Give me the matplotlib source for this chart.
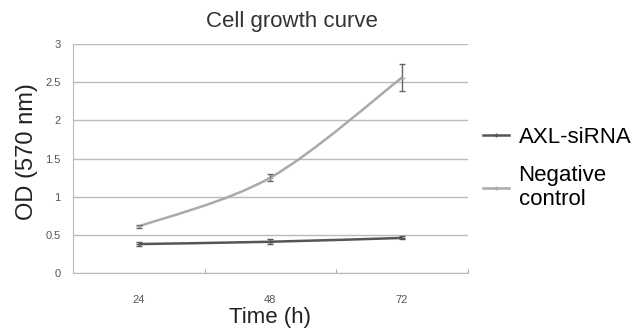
import matplotlib
matplotlib.use('Agg')
import matplotlib.pyplot as plt
from matplotlib.path import Path
from matplotlib.patches import PathPatch

plt.rcParams['font.family'] = ['Liberation Sans', 'DejaVu Sans']

# Datos
tiempos = ['24', '48', '72']
axl_sirna = [0.38, 0.41, 0.46]
axl_err = [0.03, 0.03, 0.02]
control_neg = [0.61, 1.25, 2.56]
control_err = [0.02, 0.05, 0.18]
yticks = [0, 0.5, 1, 1.5, 2, 2.5, 3]


def curva_suave(ax, xs, ys, color):
    # linea suavizada estilo Excel (Catmull-Rom -> Bezier)
    pts = list(zip(xs, ys))
    ext = [pts[0]] + pts + [pts[-1]]
    verts = [pts[0]]
    codes = [Path.MOVETO]
    for i in range(1, len(ext) - 2):
        p0, p1, p2, p3 = ext[i - 1], ext[i], ext[i + 1], ext[i + 2]
        c1 = (p1[0] + (p2[0] - p0[0]) / 6, p1[1] + (p2[1] - p0[1]) / 6)
        c2 = (p2[0] - (p3[0] - p1[0]) / 6, p2[1] - (p3[1] - p1[1]) / 6)
        verts += [c1, c2, p2]
        codes += [Path.CURVE4] * 3
    ax.add_patch(PathPatch(Path(verts, codes), facecolor='none',
                           edgecolor=color, lw=1.8, zorder=3))


fig = plt.figure(figsize=(6.4, 3.33), dpi=100)
ax = fig.add_axes([0.114, 0.18, 0.617, 0.688])

x = [1, 2, 3]
c_axl = '#555555'
c_neg = '#aaaaaa'

curva_suave(ax, x, axl_sirna, c_axl)
curva_suave(ax, x, control_neg, c_neg)
ax.errorbar(x, axl_sirna, yerr=axl_err, fmt='_', color=c_axl, ms=5,
            capsize=2.5, elinewidth=1, capthick=1, zorder=4)
ax.errorbar(x, control_neg, yerr=control_err, fmt='_', color=c_neg, ms=5,
            capsize=2.5, elinewidth=1, capthick=1, zorder=4, ecolor='#666666')

# leyenda manual con lineas
ax.plot([], [], color=c_axl, lw=1.8, marker='+', ms=3, label='AXL-siRNA')
ax.plot([], [], color=c_neg, lw=1.8, marker='+', ms=3, label='Negative\ncontrol')
ax.legend(loc='upper left', bbox_to_anchor=(1.0, 0.705), frameon=False,
          fontsize=16, handlelength=1.13, labelspacing=0.76, handletextpad=0.45,
          borderaxespad=0.3)

ax.set_xlim(0.5, 3.5)
ax.set_ylim(0, 3)
ax.set_yticks(yticks)
ax.set_yticklabels([f'{v:g}' for v in yticks], fontsize=8, color='#555555')
ax.set_xticks(x)
ax.set_xticklabels(tiempos, fontsize=8, color='#555555')
ax.tick_params(axis='x', length=0, pad=16)
ax.tick_params(axis='y', length=0, pad=9)
ax.set_xticks([1.5, 2.5, 3.5], minor=True)
ax.tick_params(axis='x', which='minor', direction='in', length=3, color='#999999')
ax.grid(axis='y', color='#bbbbbb', lw=1)
for s in ['top', 'right']:
    ax.spines[s].set_visible(False)
ax.spines['left'].set_color('#bbbbbb')
ax.spines['bottom'].set_color('#bbbbbb')
ax.set_axisbelow(True)

fig.text(292 / 640, 1 - 22 / 333, 'Cell growth curve', fontsize=16,
         ha='center', va='center', color='#333333')
fig.text(270 / 640, 1 - 318 / 333, 'Time (h)', fontsize=16,
         ha='center', va='center', color='#222222')
fig.text(27 / 640, 1 - 152 / 333, 'OD (570 nm)', fontsize=17,
         ha='center', va='center', rotation=90, color='#222222')

plt.savefig('out.png', dpi=100)
